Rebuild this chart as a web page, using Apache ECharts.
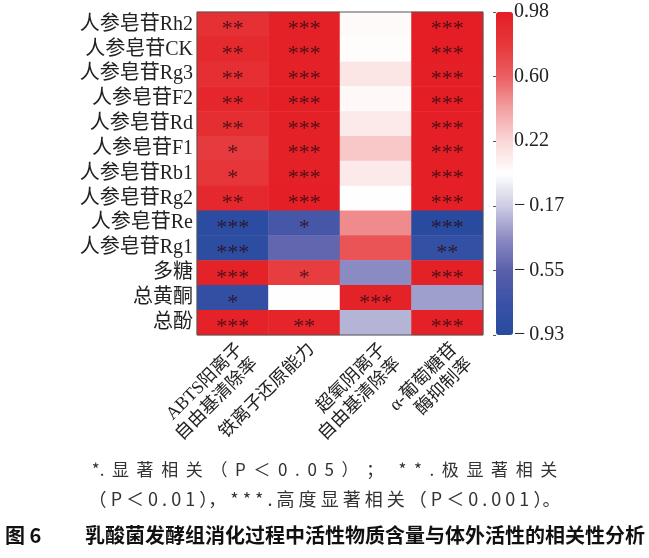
<!DOCTYPE html>
<html>
<head>
<meta charset="utf-8">
<script src="https://cdn.jsdelivr.net/npm/echarts@6/dist/echarts.min.js"></script>
<style>
html,body{margin:0;padding:0;background:#fff;}
#c{width:649px;height:558px;}
</style>
</head>
<body>
<div id="c"></div>
<script>
// ---- data ----
const rows = ['人参皂苷Rh2','人参皂苷CK','人参皂苷Rg3','人参皂苷F2','人参皂苷Rd','人参皂苷F1','人参皂苷Rb1','人参皂苷Rg2','人参皂苷Re','人参皂苷Rg1','多糖','总黄酮','总酚'];
const cols = ['ABTS阳离子\n自由基清除率','铁离子还原能力','超氧阴离子\n自由基清除率','α-葡萄糖苷\n酶抑制率'];
const abts    = [0.84,0.89,0.85,0.91,0.86,0.77,0.80,0.90,-0.90,-0.88,0.94,-0.82,0.95];
const iron    = [0.96,0.96,0.96,0.97,0.96,0.96,0.96,0.97,-0.66,-0.52,0.76,0.03,0.93];
const superox = [0.05,0.04,0.15,0.06,0.13,0.27,0.13,0.03,0.47,0.65,-0.36,0.94,-0.24];
const alpha   = [0.98,0.98,0.97,0.98,0.97,0.97,0.97,0.97,-0.93,-0.80,0.96,-0.30,0.96];
const abtsSig    = ['**','**','**','**','**','*','*','**','***','***','***','*','***'];
const ironSig    = ['***','***','***','***','***','***','***','***','*','','*','','**'];
const superoxSig = ['','','','','','','','','','','','***',''];
const alphaSig   = ['***','***','***','***','***','***','***','***','***','**','***','','***'];
const barTicks = ['0.98','0.60','0.22','−\u20090.17','−\u20090.55','−\u20090.93'];
const vMin = -0.93, vMax = 0.98;
const captionLine1 = '*.  显  著  相  关  （  P  ＜  0  .  0  5  ）  ；    *  *  .  极  显  著  相  关';
const captionLine2 = '（ P ＜ 0 . 0 1 ）， * * * . 高 度 显 著 相 关 （ P ＜ 0 . 0 0 1 ）。';
const figLabel = '图 6';
const figTitle = '乳酸菌发酵组消化过程中活性物质含量与体外活性的相关性分析';

const colValues = [abts, iron, superox, alpha];
const colSig = [abtsSig, ironSig, superoxSig, alphaSig];
const data = [];
colValues.forEach((arr, ci) => arr.forEach((v, ri) => data.push({value:[ci, ri, v], sig: colSig[ci][ri]})));

const serif = '"Liberation Serif","Noto Sans CJK SC",serif';
const chart = echarts.init(document.getElementById('c'));
chart.setOption({
  animation: false,
  backgroundColor: '#fff',
  grid: [
    {left:197, width:286, top:12, height:323, show:true, z:10, borderColor:'#555', borderWidth:1, backgroundColor:'transparent'},
    {left:496, width:17, top:12, height:323}
  ],
  xAxis: [
    {type:'category', data: cols, gridIndex:0, position:'bottom',
     axisLine:{show:false}, axisTick:{show:false}, splitLine:{show:false},
     axisLabel:{rotate:45, interval:0, fontFamily:serif, fontSize:18, color:'#222', lineHeight:21, margin:4, verticalAlign:'top'}},
    {type:'value', gridIndex:1, show:false, min:0, max:1}
  ],
  yAxis: [
    {type:'category', data: rows, inverse:true, gridIndex:0,
     axisLine:{show:false}, axisTick:{show:false}, splitLine:{show:false},
     axisLabel:{interval:0, fontFamily:serif, fontSize:20, lineHeight:22, color:'#222', margin:4}},
    {type:'value', gridIndex:1, min:0, max:5, interval:1, position:'right',
     axisLine:{show:false}, splitLine:{show:false},
     axisTick:{show:true, length:3, inside:true, lineStyle:{color:'#555'}},
     axisLabel:{fontFamily:serif, fontSize:20, color:'#222', margin:1,
       formatter: (v) => barTicks[5 - Math.round(v)]}}
  ],
  visualMap: {
    type:'continuous', min:vMin, max:vMax, seriesIndex:0,
    left:496, top:12, itemWidth:17, itemHeight:323, padding:0,
    text:null, showLabel:false, calculable:false, hoverLink:false,
    inRange:{color:['#284B9F','#3A52A6','#5A5FAA','#8C8CC3','#CDCDE4','#FFFFFF','#FAD7D7','#F3A0A2','#EB5F62','#E6373A','#E41E24']}
  },
  series: [
    {type:'heatmap', xAxisIndex:0, yAxisIndex:0, data: data,
     itemStyle:{borderWidth:0},
     label:{show:true, formatter:(p)=>p.data.sig, fontFamily:serif, fontSize:22, color:'rgba(45,10,20,0.82)', offset:[0,5]}},
    {type:'scatter', xAxisIndex:1, yAxisIndex:1, data:[], silent:true}
  ],
  graphic: [
    {type:'text', left:'center', top:461, style:{text:captionLine1, font:'17px "Noto Sans CJK SC"', fill:'#333'}},
    {type:'text', left:'center', top:490, style:{text:captionLine2, font:'18px "Noto Sans CJK SC"', fill:'#333'}},
    {type:'text', left:5, top:525, style:{text:figLabel, font:'bold 20px "Noto Sans CJK SC"', fill:'#111'}},
    {type:'text', right:4, top:525, style:{text:figTitle, font:'bold 20px "Noto Sans CJK SC"', fill:'#111'}}
  ]
});
</script>
</body>
</html>
